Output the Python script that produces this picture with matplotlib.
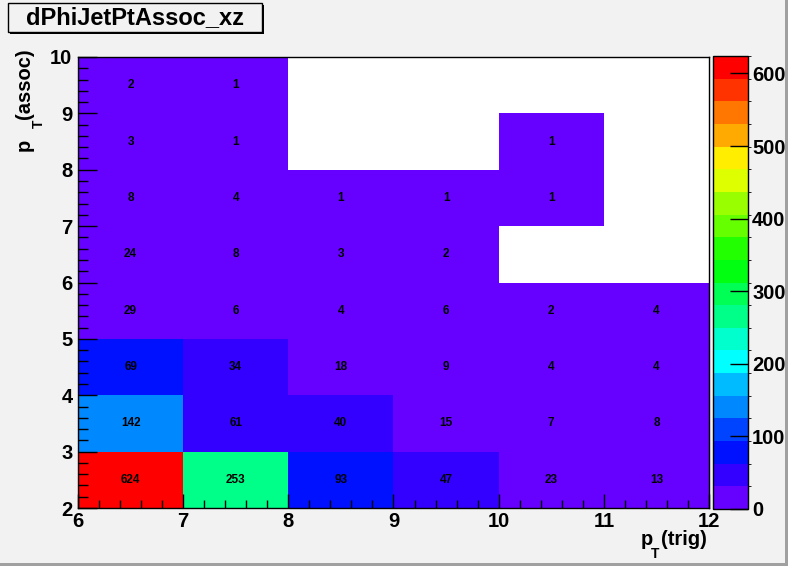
"""
ROOT-style COLZ+TEXT histogram: dPhiJetPtAssoc_xz.
"""
import numpy as np
import matplotlib.pyplot as plt
from matplotlib.colors import ListedColormap, BoundaryNorm
from matplotlib.ticker import MultipleLocator
from matplotlib.patches import Rectangle

plt.rcParams['font.family'] = ['Liberation Sans', 'DejaVu Sans']
plt.rcParams['font.weight'] = 'bold'

# data
title = 'dPhiJetPtAssoc_xz'
pt_trig_edges = [6, 7, 8, 9, 10, 11, 12]
pt_assoc_edges = [2, 3, 4, 5, 6, 7, 8, 9, 10]
# rows from pT(assoc) 2-3 up to 9-10, 0 = empty bin
counts = [
    [624, 253, 93, 47, 23, 13],
    [142, 61, 40, 15, 7, 8],
    [69, 34, 18, 9, 4, 4],
    [29, 6, 4, 6, 2, 4],
    [24, 8, 3, 2, 0, 0],
    [8, 4, 1, 1, 1, 0],
    [3, 1, 0, 0, 1, 0],
    [2, 1, 0, 0, 0, 0],
]
z_max = 624
cbar_ticks = [0, 100, 200, 300, 400, 500, 600]

# ROOT palette, 20 contour levels
palette = ['#6600ff', '#3300ff', '#0011ff', '#0044ff', '#0088ff', '#00bbff',
           '#00ffff', '#00ffcc', '#00ff88', '#00ff55', '#00ff11', '#22ff00',
           '#66ff00', '#99ff00', '#ddff00', '#ffee00', '#ffaa00', '#ff7700',
           '#ff3300', '#ff0000']

W, H = 788, 566
bg = '#f2f2f2'
fs = 14.5
fig = plt.figure(figsize=(W / 100, H / 100), dpi=100, facecolor=bg)


def px(x, y):
    """pixel position (from top left) -> figure fraction"""
    return x / W, 1 - y / H


ax = fig.add_axes([78 / W, 1 - 508 / H, (709 - 78) / W, (508 - 57) / H])
cax = fig.add_axes([713 / W, 1 - 509 / H, 35 / W, (509 - 56) / H])

cmap = ListedColormap(palette)
levels = np.linspace(0, z_max, len(palette) + 1)
norm = BoundaryNorm(levels, cmap.N)

z = np.ma.masked_equal(np.array(counts), 0)
ax.set_facecolor('white')
mesh = ax.pcolormesh(pt_trig_edges, pt_assoc_edges, z, cmap=cmap, norm=norm)

for i in range(len(pt_assoc_edges) - 1):
    for j in range(len(pt_trig_edges) - 1):
        v = counts[i][j]
        if v == 0:
            continue
        xc = 0.5 * (pt_trig_edges[j] + pt_trig_edges[j + 1])
        yc = 0.5 * (pt_assoc_edges[i] + pt_assoc_edges[i + 1])
        ax.text(xc, yc, str(v), ha='center', va='center', fontsize=8.5,
                fontweight='bold', color='black')

ax.set_xlim(pt_trig_edges[0], pt_trig_edges[-1])
ax.set_ylim(pt_assoc_edges[0], pt_assoc_edges[-1])
ax.set_xticks(pt_trig_edges)
ax.set_yticks(pt_assoc_edges)
ax.xaxis.set_minor_locator(MultipleLocator(0.2))
ax.yaxis.set_minor_locator(MultipleLocator(0.2))
ax.tick_params(axis='x', which='major', direction='in', length=10, width=1,
               labelsize=fs, pad=3)
ax.tick_params(axis='x', which='minor', direction='in', length=5.5, width=1)
ax.tick_params(axis='y', which='major', direction='in', length=14, width=1,
               labelsize=fs, pad=4)
ax.tick_params(axis='y', which='minor', direction='in', length=7, width=1)
for lab in ax.get_xticklabels() + ax.get_yticklabels():
    lab.set_fontweight('bold')
for s in ax.spines.values():
    s.set_linewidth(1)

# colour bar
cb = fig.colorbar(mesh, cax=cax, ticks=cbar_ticks)
cb.outline.set_linewidth(1)
cax.tick_params(direction='in', length=13, width=1, labelsize=fs, pad=3)
for lab in cax.get_yticklabels():
    lab.set_fontweight('bold')

# axis titles, ROOT-like deep subscript
fig.text(*px(641, 545), 'p', ha='left', va='baseline', fontsize=fs)
fig.text(*px(651, 558), 'T', ha='left', va='baseline', fontsize=10)
fig.text(*px(661, 545), '(trig)', ha='left', va='baseline', fontsize=fs)

fig.text(*px(30, 151), 'p', ha='left', va='baseline', fontsize=fs,
         rotation=90, rotation_mode='anchor')
fig.text(*px(43, 128), 'T', ha='left', va='baseline', fontsize=10,
         rotation=90, rotation_mode='anchor')
fig.text(*px(30, 119), '(assoc)', ha='left', va='baseline', fontsize=fs,
         rotation=90, rotation_mode='anchor')

# title box with shadow
fig.patches.append(Rectangle(px(10, 34), 254 / W, 29 / H,
                             transform=fig.transFigure, facecolor='black',
                             edgecolor='none'))
fig.patches.append(Rectangle(px(8, 32), 254 / W, 29 / H,
                             transform=fig.transFigure, facecolor=bg,
                             edgecolor='black', linewidth=1))
fig.text(*px(135, 18), title, ha='center', va='center', fontsize=17)

# canvas bevel
fig.patches.append(Rectangle((0, 0), 1, 3 / H, transform=fig.transFigure,
                             facecolor='#a0a0a0', edgecolor='none'))
fig.patches.append(Rectangle(((W - 3) / W, 0), 3 / W, 1,
                             transform=fig.transFigure, facecolor='#a0a0a0',
                             edgecolor='none'))

fig.savefig('out.png', dpi=100, facecolor=bg)
